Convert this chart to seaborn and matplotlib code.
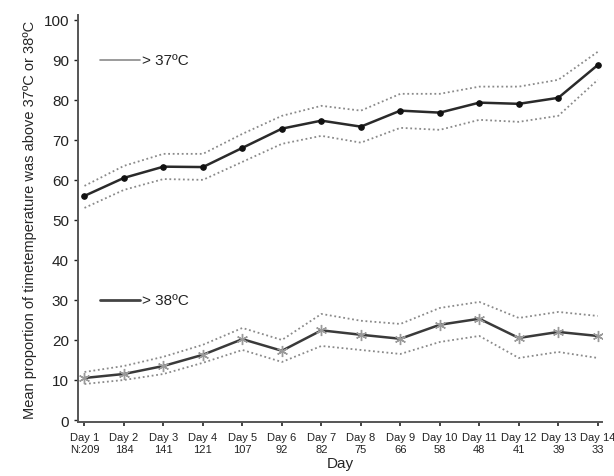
import numpy as np
import pandas as pd
import matplotlib.pyplot as plt
import seaborn as sns

# values
days = [f"Day {i}" for i in range(1, 15)]
n_counts = ["N:209", "184", "141", "121", "107", "92", "82", "75", "66", "58", "48", "41", "39", "33"]

above37 = [56.0, 60.5, 63.3, 63.2, 68.0, 72.8, 74.8, 73.3, 77.3, 76.8, 79.3, 79.0, 80.5, 88.7]
above37_hi = [58.5, 63.5, 66.5, 66.5, 71.5, 76.0, 78.5, 77.3, 81.5, 81.5, 83.3, 83.3, 85.0, 92.0]
above37_lo = [53.0, 57.5, 60.2, 60.0, 64.5, 69.0, 71.0, 69.3, 73.0, 72.5, 75.0, 74.5, 76.0, 85.0]

above38 = [10.5, 11.5, 13.5, 16.3, 20.2, 17.3, 22.4, 21.3, 20.3, 23.8, 25.3, 20.5, 22.0, 21.0]
above38_hi = [12.0, 13.5, 15.8, 18.8, 23.0, 20.0, 26.5, 24.8, 24.0, 28.0, 29.5, 25.5, 27.0, 26.0]
above38_lo = [9.0, 10.0, 11.5, 14.3, 17.5, 14.5, 18.5, 17.5, 16.5, 19.5, 21.0, 15.5, 17.0, 15.5]

x = np.arange(len(days))
df = pd.DataFrame({
    "x": x,
    "a37": above37, "a37_hi": above37_hi, "a37_lo": above37_lo,
    "a38": above38, "a38_hi": above38_hi, "a38_lo": above38_lo,
})

sns.set_style("ticks")
plt.rcParams["font.family"] = ["Liberation Sans", "DejaVu Sans"]

fig = plt.figure(figsize=(6.14, 4.77), dpi=100)
ax = fig.add_axes([0.127, 0.1132, 0.853, 0.8533])

dot = dict(color="#8a8a8a", linestyle=(0, (1, 1.5)), linewidth=1.3)

# > 37C
sns.lineplot(data=df, x="x", y="a37_hi", ax=ax, **dot)
sns.lineplot(data=df, x="x", y="a37_lo", ax=ax, **dot)
sns.lineplot(data=df, x="x", y="a37", ax=ax, color="#2a2a2a", linewidth=1.8,
             marker="o", markersize=4, markeredgecolor="#111111", markerfacecolor="#111111")

# > 38C
sns.lineplot(data=df, x="x", y="a38_hi", ax=ax, **dot)
sns.lineplot(data=df, x="x", y="a38_lo", ax=ax, **dot)
sns.lineplot(data=df, x="x", y="a38", ax=ax, color="#3a3a3a", linewidth=1.8,
             marker=(6, 2, 0), markersize=8, markeredgecolor="#9a9a9a", markeredgewidth=1.0)

# inline legend labels
ax.plot([0.4, 1.4], [90, 90], color="#8a8a8a", linewidth=1.2)
ax.text(1.45, 90, "> 37ºC", va="center", ha="left", fontsize=11, color="#222222")
ax.plot([0.4, 1.4], [30, 30], color="#444444", linewidth=2.0)
ax.text(1.45, 30, "> 38ºC", va="center", ha="left", fontsize=11, color="#222222")

ax.set_xlim(-0.165, 13.1)
ax.set_ylim(-0.5, 101.2)
ax.set_yticks(range(0, 101, 10))
ax.tick_params(axis="y", labelsize=11, length=3, width=1, colors="#222222")
ax.set_xticks(x)
ax.set_xticklabels([f"{d}\n{n}" for d, n in zip(days, n_counts)], fontsize=8,
                   linespacing=1.25)
ax.tick_params(axis="x", length=3, width=1.2, colors="#222222", pad=4)

ax.set_xlabel("Day", fontsize=11, labelpad=1.5)
ax.set_ylabel("Mean proportion of timetemperature was above 37ºC or 38ºC", fontsize=10.5,
              labelpad=5)

for s in ["top", "right"]:
    ax.spines[s].set_visible(False)
for s in ["left", "bottom"]:
    ax.spines[s].set_color("#555555")
    ax.spines[s].set_linewidth(1.4)

fig.savefig("out.png", dpi=100)
